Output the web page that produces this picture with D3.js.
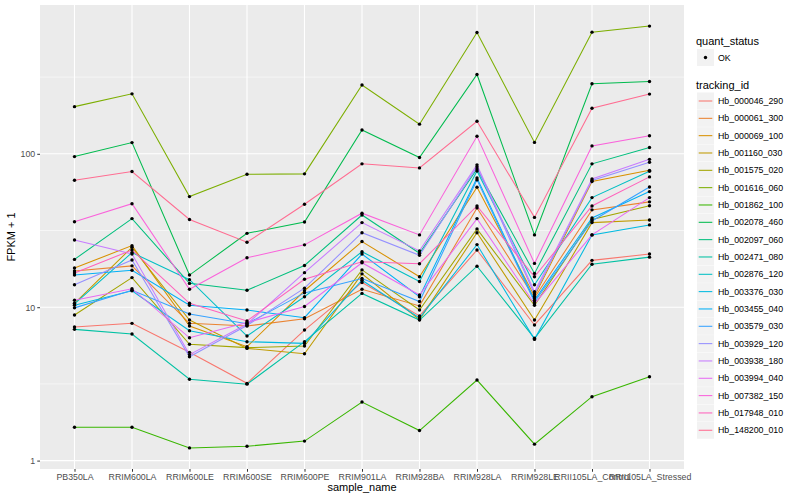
<!DOCTYPE html>
<html>
<head>
<meta charset="utf-8">
<script src="https://cdn.jsdelivr.net/npm/d3@7"></script>
<style>
  body { margin: 0; background: #fff; }
  text { font-family: "Liberation Sans", Arial, sans-serif; }
</style>
</head>
<body>
<svg id="chart" width="800" height="500"></svg>
<script>
var samples = ['PB350LA','RRIM600LA','RRIM600LE','RRIM600SE','RRIM600PE','RRIM901LA',
  'RRIM928BA','RRIM928LA','RRIM928LE','RRII105LA_Control','RRII105LA_Stressed'];

var trackingIds = ['Hb_000046_290','Hb_000061_300','Hb_000069_100','Hb_001160_030','Hb_001575_020',
  'Hb_001616_060','Hb_001862_100','Hb_002078_460','Hb_002097_060','Hb_002471_080',
  'Hb_002876_120','Hb_003376_030','Hb_003455_040','Hb_003579_030','Hb_003929_120',
  'Hb_003938_180','Hb_003994_040','Hb_007382_150','Hb_017948_010','Hb_148200_010'];

// FPKM + 1, one row per tracking id, one value per sample
var fpkm = [
  [7.43, 7.85, 5.08, 3.19, 7.10, 14.5, 8.77, 23.6, 7.66, 20.2, 22.2],
  [17.2, 18.6, 7.85, 7.54, 8.4, 13.1, 10.2, 44.4, 11.5, 43.1, 48.6],
  [18.0, 25.2, 7.54, 5.53, 12.8, 26.8, 15.8, 60.6, 11.8, 65.9, 78],
  [10.6, 24.6, 8.25, 5.39, 4.97, 16.5, 8.3, 30.6, 8.25, 35.6, 37.0],
  [8.9, 15.6, 5.73, 5.45, 5.58, 17.5, 9.59, 32.4, 10.3, 37.3, 45.9],
  [203, 246, 52.6, 73.6, 74, 281, 156, 617, 118.7, 621, 680],
  [1.65, 1.65, 1.21, 1.24, 1.34, 2.41, 1.57, 3.35, 1.28, 2.61, 3.52],
  [95.9, 118.3, 16.2, 30.3, 35.9, 143, 94.5, 329, 29.6, 286, 296],
  [20.5, 37.8, 14.3, 12.9, 18.7, 39.9, 22.5, 79.7, 16.6, 86, 110],
  [7.17, 6.69, 3.39, 3.15, 5.96, 12.3, 8.25, 18.5, 6.27, 19.05, 21.2],
  [10.5, 22.7, 15.1, 6.49, 11.7, 23.0, 14.7, 77.3, 14.0, 51.8, 77],
  [10.3, 12.8, 7.03, 5.96, 5.81, 15.0, 8.5, 25.6, 6.17, 29.6, 34.4],
  [16.2, 17.4, 10.3, 9.59, 8.54, 22.2, 11.7, 69.6, 11.1, 38.2, 56.7],
  [9.9, 12.9, 9.03, 7.8, 12.4, 15.4, 10.9, 67.6, 10.8, 36.5, 60.8],
  [14.0, 20.3, 4.75, 7.6, 13.3, 30.6, 21.8, 82.2, 12.2, 67.1, 88],
  [27.4, 22.2, 4.91, 7.77, 16.8, 35.6, 23.3, 84.7, 12.6, 68.6, 92],
  [11.1, 13.2, 6.32, 7.94, 10.1, 19.5, 12.0, 37.8, 10.5, 29.6, 51.8],
  [36.1, 47.3, 13.1, 21.0, 25.5, 41.0, 29.6, 130, 19.3, 112.6, 131],
  [16.7, 23.6, 10.6, 8.13, 15.2, 19.8, 19.2, 45.7, 15.8, 45.7, 70.7],
  [67.3, 76.6, 37.3, 26.5, 46.9, 86, 80.9, 163, 38.5, 198, 245]
];

var yTicks = [1, 10, 100];
var yMinor = [Math.pow(10, 0.5), Math.pow(10, 1.5), Math.pow(10, 2.5)];

var colors = ['#F8766D','#EA8331','#D89000','#C09B00','#A3A500','#7CAE00','#39B600','#00BB4E',
  '#00BF7D','#00C1A3','#00BFC4','#00BAE0','#00B0F6','#35A2FF','#9590FF','#C77CFF',
  '#E76BF3','#FA62DB','#FF62BC','#FF6C91'];

var margin = { top: 5, left: 40, right: 116, bottom: 31 };
var width = 800 - margin.left - margin.right;
var height = 500 - margin.top - margin.bottom;

var svg = d3.select('#chart');
var g = svg.append('g').attr('transform', 'translate(' + margin.left + ',' + margin.top + ')');

// log scale with ggplot-like 5% expansion
var all = d3.merge(fpkm);
var lo = Math.log10(d3.min(all)), hi = Math.log10(d3.max(all));
var pad = (hi - lo) * 0.05;
var y = d3.scaleLog().domain([Math.pow(10, lo - pad), Math.pow(10, hi + pad)]).range([height, 0]);
var x = d3.scalePoint().domain(samples).range([0, width]).padding(0.6);
var color = d3.scaleOrdinal().domain(trackingIds).range(colors);

g.append('rect').attr('width', width).attr('height', height).attr('fill', '#EBEBEB');

g.selectAll('line.minor').data(yMinor).enter().append('line')
  .attr('x1', 0).attr('x2', width)
  .attr('y1', function(d){ return y(d); }).attr('y2', function(d){ return y(d); })
  .attr('stroke', '#fff').attr('stroke-width', 0.55);

g.selectAll('line.majy').data(yTicks).enter().append('line')
  .attr('x1', 0).attr('x2', width)
  .attr('y1', function(d){ return y(d); }).attr('y2', function(d){ return y(d); })
  .attr('stroke', '#fff').attr('stroke-width', 1.1);

g.selectAll('line.majx').data(samples).enter().append('line')
  .attr('y1', 0).attr('y2', height)
  .attr('x1', function(d){ return x(d); }).attr('x2', function(d){ return x(d); })
  .attr('stroke', '#fff').attr('stroke-width', 1.1);

var line = d3.line()
  .x(function(d, i){ return x(samples[i]); })
  .y(function(d){ return y(d); });

g.selectAll('path.series').data(fpkm).enter().append('path')
  .attr('fill', 'none')
  .attr('stroke', function(d, i){ return color(trackingIds[i]); })
  .attr('stroke-width', 1.05)
  .attr('d', line);

fpkm.forEach(function(row){
  g.selectAll(null).data(row).enter().append('circle')
    .attr('cx', function(d, i){ return x(samples[i]); })
    .attr('cy', function(d){ return y(d); })
    .attr('r', 1.7).attr('fill', '#000');
});

// axes
var xAxis = g.append('g').attr('transform', 'translate(0,' + height + ')')
  .call(d3.axisBottom(x).tickSize(2.75).tickPadding(2));
var yAxis = g.append('g')
  .call(d3.axisLeft(y).tickValues(yTicks).tickFormat(d3.format('d')).tickSize(2.75).tickPadding(2));
[xAxis, yAxis].forEach(function(a){
  a.select('.domain').remove();
  a.selectAll('.tick line').attr('stroke', '#333');
  a.selectAll('.tick text').attr('fill', '#4D4D4D').style('font-size', '8.8px');
});

svg.append('text').attr('x', margin.left + width / 2).attr('y', 491)
  .attr('text-anchor', 'middle').style('font-size', '11px').attr('fill', '#000').text('sample_name');
svg.append('text')
  .attr('transform', 'translate(15,' + (margin.top + height / 2) + ') rotate(-90)')
  .attr('text-anchor', 'middle').style('font-size', '11px').attr('fill', '#000').text('FPKM + 1');

// legends
var lx = 697;
svg.append('text').attr('x', lx - 1).attr('y', 45).style('font-size', '11px').text('quant_status');
svg.append('rect').attr('x', lx).attr('y', 49).attr('width', 17).attr('height', 17).attr('fill', '#F2F2F2');
svg.append('circle').attr('cx', lx + 8.5).attr('cy', 57.5).attr('r', 1.7).attr('fill', '#000');
svg.append('text').attr('x', lx + 21).attr('y', 60.5).style('font-size', '8.8px').text('OK');

svg.append('text').attr('x', lx - 1).attr('y', 89).style('font-size', '11px').text('tracking_id');
var key = svg.selectAll('g.key').data(trackingIds).enter().append('g')
  .attr('transform', function(d, i){ return 'translate(' + lx + ',' + (92.5 + i * 17.33) + ')'; });
key.append('rect').attr('width', 17).attr('height', 17).attr('fill', '#F2F2F2');
key.append('line').attr('x1', 1.7).attr('x2', 15.3).attr('y1', 8.5).attr('y2', 8.5)
  .attr('stroke', function(d){ return color(d); }).attr('stroke-width', 1.05);
key.append('text').attr('x', 21).attr('y', 11.6).style('font-size', '8.8px').attr('fill', '#000')
  .text(function(d){ return d; });
</script>
</body>
</html>
